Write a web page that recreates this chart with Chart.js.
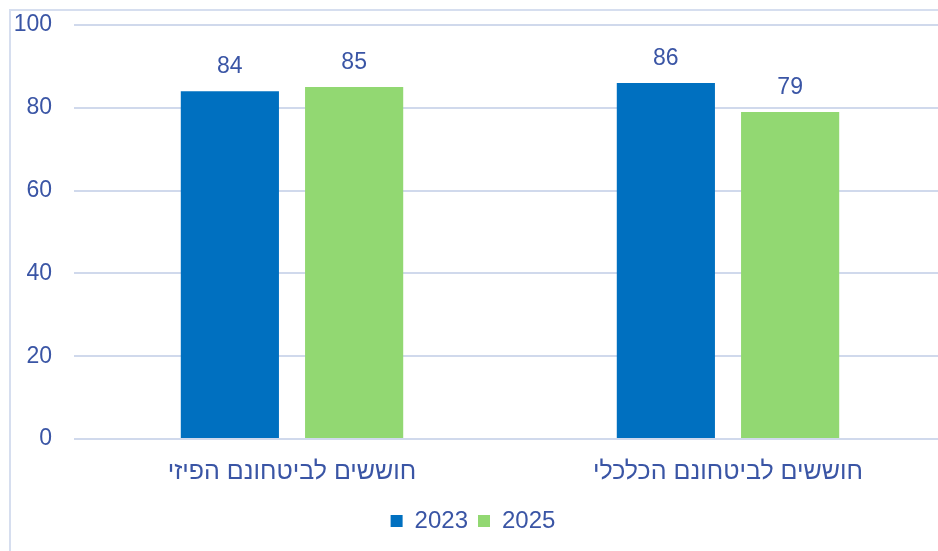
<!DOCTYPE html>
<html lang="he">
<head>
<meta charset="UTF-8">
<title>חוששים לביטחונם</title>
<script src="https://cdn.jsdelivr.net/npm/chart.js@4"></script>
<style>
  html, body { margin: 0; padding: 0; background: #fff; overflow: hidden; }
  .frame {
    position: absolute; left: 9px; top: 9px; width: 1000px; height: 600px;
    border-left: 2px solid #d6deef; border-top: 2px solid #d6deef;
  }
  .wrap { position: absolute; left: 0; top: 0; width: 946px; height: 551px; }
</style>
</head>
<body>
<div class="frame"></div>
<div class="wrap"><canvas id="chart" dir="rtl"></canvas></div>
<script>
// chart data
const categories = ['חוששים לביטחונם הפיזי', 'חוששים לביטחונם הכלכלי'];
const seriesNames = ['2023', '2025'];
const values2023 = [84, 86];
const values2025 = [85, 79];
const yTicks = [0, 20, 40, 60, 80, 100];

const textColor = '#3a55a5';
const fontFamily = "'Liberation Sans', Arial, sans-serif";
const fontSize = 23;

// draws the value above each bar
const valueLabels = {
  id: 'valueLabels',
  afterDatasetsDraw(chart) {
    const ctx = chart.ctx;
    ctx.save();
    ctx.font = fontSize + 'px ' + fontFamily;
    ctx.fillStyle = textColor;
    ctx.textAlign = 'center';
    ctx.textBaseline = 'bottom';
    chart.data.datasets.forEach((ds, i) => {
      chart.getDatasetMeta(i).data.forEach((bar, j) => {
        ctx.fillText(ds.data[j], bar.x, bar.y - 13);
      });
    });
    ctx.restore();
  }
};

new Chart(document.getElementById('chart'), {
  type: 'bar',
  data: {
    labels: categories,
    datasets: [
      { label: seriesNames[0], data: values2023, backgroundColor: '#0070c0' },
      { label: seriesNames[1], data: values2025, backgroundColor: '#92d872' }
    ]
  },
  options: {
    responsive: true,
    maintainAspectRatio: false,
    animation: false,
    categoryPercentage: 0.57,
    barPercentage: 0.79,
    layout: { padding: { top: 25, bottom: 8, left: 0, right: 0 } },
    plugins: {
      tooltip: { enabled: false },
      legend: {
        position: 'bottom',
        labels: {
          color: textColor,
          font: { size: 24, family: fontFamily },
          boxWidth: 12,
          boxHeight: 12,
          padding: 10
        }
      }
    },
    scales: {
      x: {
        grid: { display: false },
        border: { display: false },
        ticks: { color: textColor, font: { size: 25, family: fontFamily }, padding: 10 },
        afterFit(scale) { scale.height = 60; }
      },
      y: {
        min: 0,
        max: 100,
        afterBuildTicks(scale) { scale.ticks = yTicks.map(v => ({ value: v })); },
        grid: { color: '#d0d9ec', lineWidth: 2, drawTicks: false },
        border: { display: false },
        ticks: { color: textColor, font: { size: fontSize, family: fontFamily }, padding: 22 },
        afterFit(scale) {
          scale.width = 74;
          scale.paddingTop = 0;
          scale.paddingBottom = 0;
        }
      }
    }
  },
  plugins: [valueLabels]
});
</script>
</body>
</html>
